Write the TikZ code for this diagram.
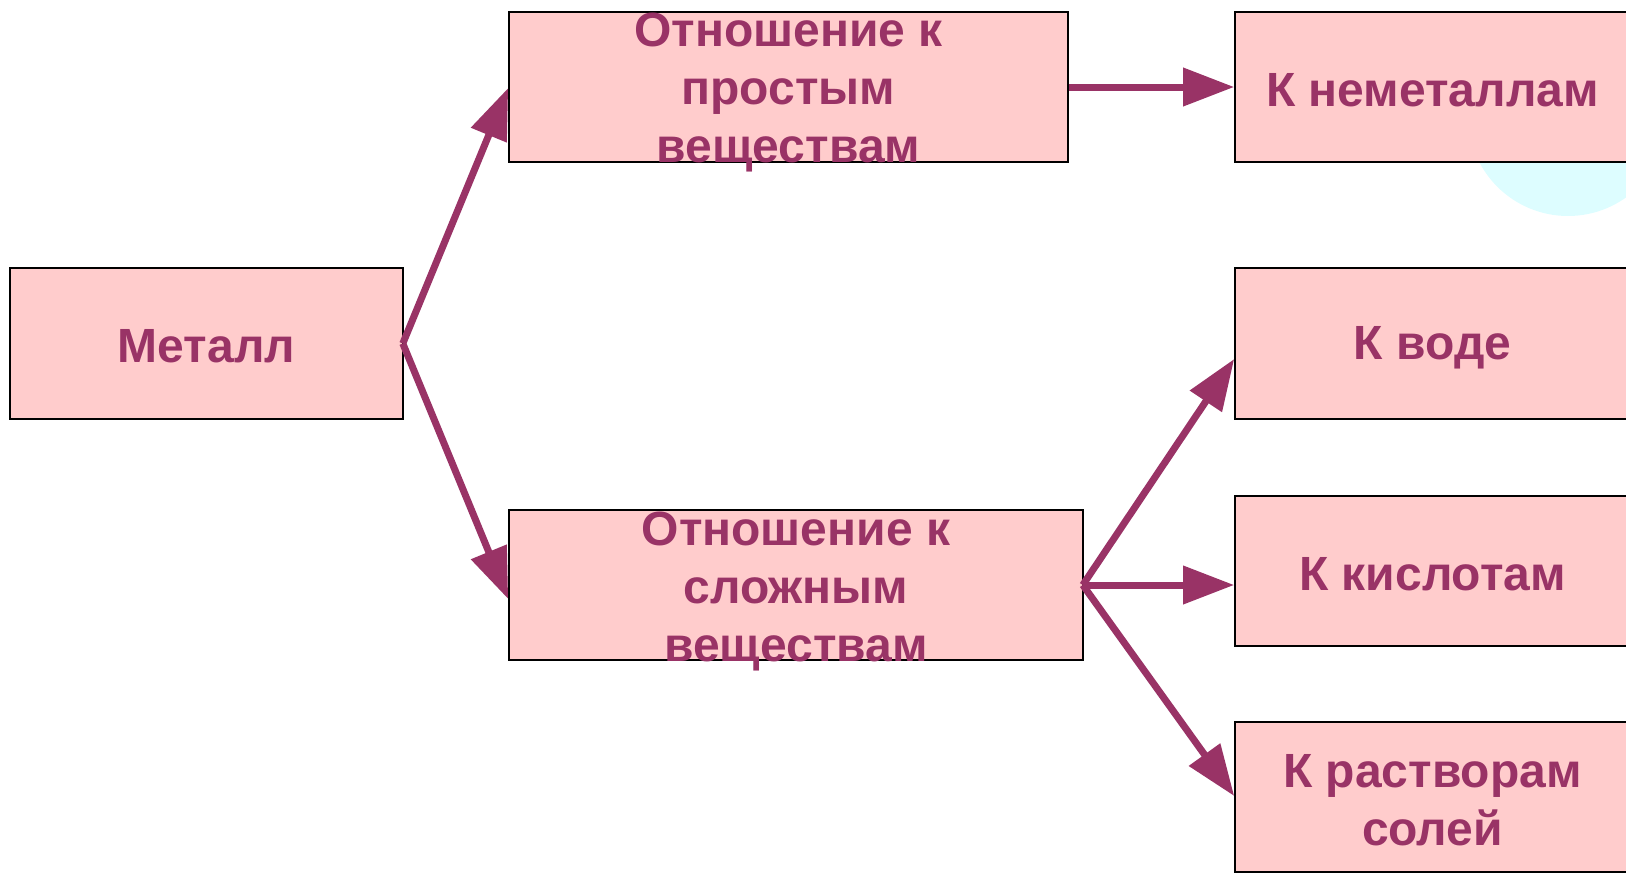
\documentclass[tikz,border=0pt]{standalone}
\usepackage{fontspec}
\setmainfont{Liberation Sans}
\usetikzlibrary{arrows.meta,calc}
\definecolor{boxpink}{HTML}{FFCCCC}
\definecolor{plum}{HTML}{993366}
\definecolor{palecyan}{RGB}{221,253,255}
\tikzset{
  box/.style={draw=black, line width=1.6pt, fill=boxpink, inner sep=0pt},
  lbl/.style={text=plum, font=\bfseries\fontsize{48}{58}\selectfont, align=center, inner sep=0pt},
  conn/.style={draw=plum, line width=7pt, -{Triangle[length=51pt,width=37pt]}}
}
\begin{document}
\begin{tikzpicture}[x=1pt,y=-1pt]
\useasboundingbox (0,0) rectangle (1626,873);
\clip (0,0) rectangle (1626,873);
\fill[palecyan] (1568,116) circle (100);
% boxes
\node[box, minimum width=393pt, minimum height=151pt] (metal) at (206.5,343.5) {};
\node[box, minimum width=559pt, minimum height=150pt] (b1) at (788.5,87) {};
\node[box, minimum width=574pt, minimum height=150pt] (b2) at (796,585) {};
\node[box, minimum width=395pt, minimum height=150pt] (r1) at (1432.5,87) {};
\node[box, minimum width=395pt, minimum height=151pt] (r2) at (1432.5,343.5) {};
\node[box, minimum width=395pt, minimum height=150pt] (r3) at (1432.5,571) {};
\node[box, minimum width=395pt, minimum height=150pt] (r4) at (1432.5,797) {};
% texts
\node[lbl] (tmetal) at ($(metal.center)+(0,3)$) {Металл};
\node[lbl] (tb1) at ($(b1.center)+(0,6)$) {Отношение к\\простым\\веществам};
\node[lbl] (tb2) at ($(b2.center)+(0,7)$) {Отношение к\\сложным\\веществам};
\node[lbl] (tr1) at ($(r1.center)+(0,3)$) {К неметаллам};
\node[lbl] (tr2) at ($(r2.center)+(0,4)$) {К воде};
\node[lbl] (tr3) at ($(r3.center)+(0,3)$) {К кислотам};
\node[lbl] (tr4) at ($(r4.center)+(0,3)$) {К растворам\\солей};
% connector ends
\coordinate (ms) at ($(metal.east)+(-1,0)$);
\coordinate (bs) at ($(b2.east)+(-1,0)$);
\coordinate (e1) at ($(b1.west)+(0,1)$);
\coordinate (e2) at ($(b2.west)+(0,14)$);
\coordinate (e3) at ($(r2.west)+(0,15.5)$);
\coordinate (e4) at ($(r3.west)+(0,14)$);
\coordinate (e5) at ($(r4.west)+(0,-1)$);
% connectors
\draw[conn] (ms) -- (e1);
\draw[conn] (ms) -- (e2);
\draw[conn] (b1.east) -- (r1.west);
\draw[conn] (bs) -- (e3);
\draw[conn] (bs) -- (e4);
\draw[conn] (bs) -- (e5);
\end{tikzpicture}
\end{document}
